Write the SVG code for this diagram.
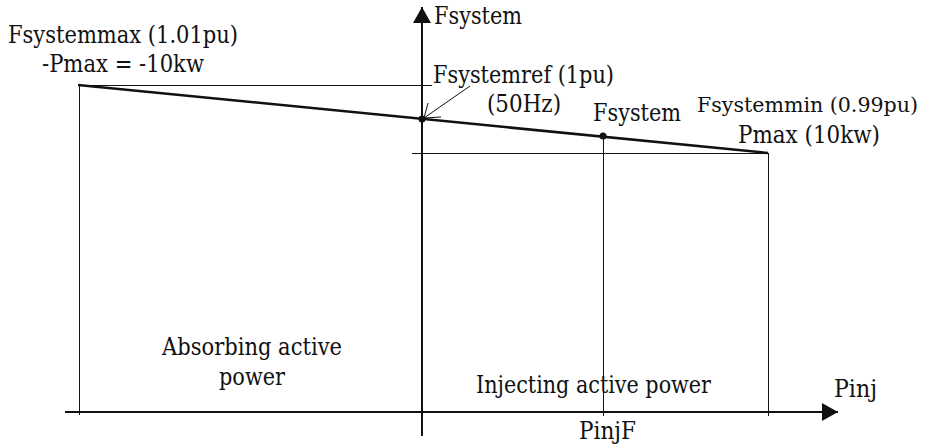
<svg xmlns="http://www.w3.org/2000/svg" width="927" height="444" viewBox="0 0 927 444">
<defs>
<style>
.lbl{font-family:"DejaVu Serif","Liberation Serif",serif;font-size:24px;fill:#111}
.thin{stroke:#111;stroke-width:1;fill:none}
.axis{stroke:#111;stroke-width:2;fill:none}
.curve{stroke:#111;stroke-width:2.5;fill:none}
</style>
<marker id="ah" markerWidth="16" markerHeight="18" refX="16" refY="9" orient="auto" markerUnits="userSpaceOnUse">
<path d="M0,0 L16,9 L0,18 Z" fill="#111"/>
</marker>
</defs>
<rect width="927" height="444" fill="#fff"/>
<g id="connectors">
<line class="axis" x1="65" y1="412" x2="838" y2="412" marker-end="url(#ah)"/>
<line class="axis" x1="422" y1="436" x2="422" y2="7" marker-end="url(#ah)"/>
<line class="thin" x1="79.5" y1="85" x2="79.5" y2="415"/>
<line class="thin" x1="79" y1="85.5" x2="432" y2="85.5"/>
<line class="thin" x1="412" y1="153.5" x2="768" y2="153.5"/>
<line class="thin" x1="768.5" y1="153" x2="768.5" y2="416"/>
<line class="thin" x1="603.5" y1="136" x2="603.5" y2="416"/>
<line class="curve" x1="78" y1="85" x2="768" y2="153"/>
<path class="thin" stroke-width="1.5" d="M470,86 L424,118 M428,103 L424,118 L441,117"/>
</g>
<g id="ref-point"><circle cx="422" cy="119" r="3.5" fill="#111"/></g>
<g id="fsystem-point"><circle cx="603" cy="136" r="3.5" fill="#111"/></g>
<g id="labels" class="lbl">
<text x="8" y="43" textLength="230" lengthAdjust="spacingAndGlyphs">Fsystemmax (1.01pu)</text>
<text x="42" y="72" textLength="162" lengthAdjust="spacingAndGlyphs">-Pmax = -10kw</text>
<text x="434" y="24" textLength="88" lengthAdjust="spacingAndGlyphs">Fsystem</text>
<text x="433" y="83" textLength="181" lengthAdjust="spacingAndGlyphs">Fsystemref (1pu)</text>
<text x="487" y="112" textLength="74" lengthAdjust="spacingAndGlyphs">(50Hz)</text>
<text x="593" y="121" textLength="88" lengthAdjust="spacingAndGlyphs">Fsystem</text>
<text x="697" y="112" font-size="20.5" textLength="221" lengthAdjust="spacingAndGlyphs">Fsystemmin (0.99pu)</text>
<text x="738" y="143" textLength="142" lengthAdjust="spacingAndGlyphs">Pmax (10kw)</text>
<text x="162" y="355" textLength="180" lengthAdjust="spacingAndGlyphs">Absorbing active</text>
<text x="219" y="385" textLength="66" lengthAdjust="spacingAndGlyphs">power</text>
<text x="476" y="393" textLength="235" lengthAdjust="spacingAndGlyphs">Injecting active power</text>
<text x="834" y="397" textLength="43" lengthAdjust="spacingAndGlyphs">Pinj</text>
<text x="579" y="439" textLength="57" lengthAdjust="spacingAndGlyphs">PinjF</text>
</g>
</svg>
